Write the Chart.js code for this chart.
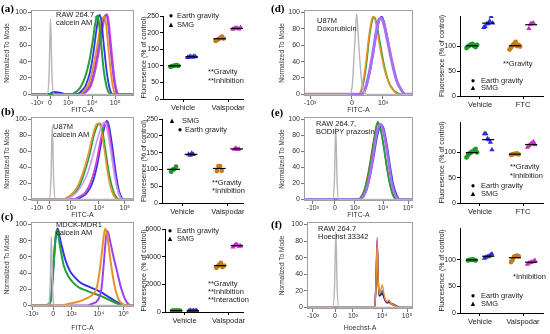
<!DOCTYPE html>
<html>
<head>
<meta charset="utf-8">
<script src="https://cdn.jsdelivr.net/npm/chart.js@4.4.1/dist/chart.umd.min.js"></script>
<style>
  body { margin: 0; background: #fff; }
  #fig { position: relative; width: 550px; height: 334px; overflow: hidden; font-family: "Liberation Sans", Arial, sans-serif; }
  canvas { position: absolute; }
  .t { position: absolute; white-space: nowrap; transform: translateY(-50%); font-size: 7.5px; color: #222; line-height: 1; }
  .m { transform: translate(-50%, -50%); color: #000; }
  .lab { font-family: "Liberation Serif", serif; font-weight: bold; font-size: 11px; color: #000; }
</style>
</head>
<body>
<div id="fig"></div>
<script>
// ---- scatter data (percent of control), one inner array per treatment group ----
const groupsVal = ['Vehicle', 'Valspodar'];
const groupsFtc = ['Vehicle', 'FTC'];

const aEarth = [[97, 99, 100, 101, 102, 100], [175, 178, 181, 184, 188, 182]];
const aSmg = [[125, 127, 128, 126, 129, 127], [210, 212, 214, 213, 211, 215]];
const bEarth = [[93, 99, 101, 108], [95, 110, 110, 96]];
const bSmg = [[145, 142, 148, 144], [160, 164, 159, 161]];
const cEarth = [[100, 95, 105, 98, 102, 100], [3200, 3300, 3450, 3550, 3250, 3350]];
const cSmg = [[110, 100, 95, 105, 98, 102], [4700, 4800, 4900, 4850, 4750, 4780]];
const dEarth = [[96, 99, 101, 103, 104, 100, 98, 102], [93, 97, 101, 104, 108, 100, 102, 99]];
const dSmg = [[137, 139, 144, 145, 150, 159, 146], [135, 144, 145, 146]];
const eEarth = [[90, 95, 98, 100, 102, 104, 107, 100], [95, 96, 97, 97, 98, 96]];
const eSmg = [[137, 137, 127, 125, 120, 105], [110, 113, 116, 118, 121, 115]];
const fEarth = [[99, 100, 100, 101, 100, 99], [96, 100, 106, 107, 108, 107]];
const fSmg = [[103, 105, 106, 107, 109, 111], [92, 94, 95, 96, 97, 99]];

// ---- histogram data: [display position, % of mode] ----
const tickLabels = ['-10³', '0', '10³', '10⁴', '10⁵'];
const aTicks = [-0.55, 0, 0.77, 1.79, 2.77];
const bTicks = [-0.44, 0, 0.81, 1.85, 2.81];
const cTicks = [-0.8, 0, 0.7, 1.75, 2.7];
const dTicks = [-1.35, 0, 1];
const eTicks = [-0.85, 0, 0.77, 1.85, 2.81];
const fTicks = [-0.85, 0, 0.69, 1.81, 2.77];

const aGray = [[-0.8,0],[-0.12,0],[-0.04,25],[0.02,92],[0.08,25],[0.16,0],[3.5,0]];
const aGreen = [[-0.8,0],[0.9,0],[1.1,3],[1.3,9],[1.5,22],[1.65,38],[1.8,62],[1.92,86],[2.0,96],[2.07,90],[2.17,62],[2.28,30],[2.4,10],[2.5,2],[2.6,0],[3.5,0]];
const aBlue = [[-0.8,0],[-0.05,0],[0.15,3],[0.4,2],[0.7,0],[1.1,0],[1.3,3],[1.5,10],[1.68,25],[1.83,48],[1.96,76],[2.05,93],[2.11,97],[2.18,90],[2.28,62],[2.4,30],[2.52,9],[2.62,1],[2.72,0],[3.5,0]];
const aOrange = [[-0.8,0],[1.2,0],[1.4,3],[1.6,10],[1.78,26],[1.95,50],[2.1,76],[2.22,92],[2.3,95],[2.37,88],[2.47,60],[2.58,28],[2.68,8],[2.77,1],[2.85,0],[3.5,0]];
const aPurple = [[-0.8,0],[-0.05,0],[0.15,3],[0.4,2],[0.7,0],[1.3,0],[1.5,3],[1.7,11],[1.87,28],[2.03,52],[2.17,78],[2.3,94],[2.38,97],[2.45,90],[2.55,62],[2.66,30],[2.76,9],[2.85,1],[2.93,0],[3.5,0]];
const aMagenta = [[-0.8,0],[1.35,0],[1.55,3],[1.75,11],[1.92,28],[2.08,52],[2.22,78],[2.34,94],[2.42,98],[2.49,91],[2.59,63],[2.7,31],[2.8,10],[2.89,1],[2.97,0],[3.5,0]];

const bGray = [[-0.67,0],[0.0,0],[0.07,25],[0.12,92],[0.17,25],[0.24,0],[3.15,0]];
const bGreen = [[-0.67,0],[0.5,0],[0.7,2],[0.9,6],[1.1,15],[1.3,32],[1.5,55],[1.65,78],[1.8,93],[1.88,95],[1.97,88],[2.1,60],[2.25,28],[2.4,9],[2.52,2],[2.62,0],[3.15,0]];
const bOrange = [[-0.67,0],[0.45,0],[0.65,2],[0.85,7],[1.05,16],[1.25,33],[1.45,56],[1.62,80],[1.76,94],[1.84,95],[1.93,88],[2.06,60],[2.2,28],[2.35,8],[2.48,1],[2.58,0],[3.15,0]];
const bPurple = [[-0.67,0],[0.6,0],[0.85,4],[1.05,10],[1.25,20],[1.45,35],[1.65,58],[1.85,82],[2.0,95],[2.07,96],[2.15,88],[2.3,58],[2.45,25],[2.6,6],[2.72,0],[3.15,0]];
const bBlue = [[-0.67,0],[1.0,0],[1.2,3],[1.4,8],[1.6,20],[1.78,42],[1.93,70],[2.05,90],[2.14,98],[2.22,92],[2.35,65],[2.48,32],[2.6,10],[2.72,1],[2.8,0],[3.15,0]];
const bMagenta = [[-0.67,0],[0.9,0],[1.1,3],[1.35,9],[1.55,22],[1.75,46],[1.9,72],[2.02,91],[2.1,97],[2.18,92],[2.3,66],[2.43,34],[2.56,10],[2.68,1],[2.76,0],[3.15,0]];

const cGray = [[-0.85,0],[-0.2,0],[-0.12,20],[-0.07,85],[-0.02,20],[0.05,0],[3.1,0]];
const cGreen = [[-0.85,0],[-0.3,0],[-0.1,5],[0.0,40],[0.08,80],[0.15,93],[0.25,75],[0.4,50],[0.6,35],[0.8,27],[1.0,22],[1.3,18],[1.6,14],[1.8,12],[2.0,9],[2.2,6],[2.4,3],[2.6,1],[2.8,0],[3.1,0]];
const cBlue = [[-0.85,0],[-0.3,0],[-0.1,5],[0.0,45],[0.1,85],[0.17,95],[0.28,80],[0.45,58],[0.65,42],[0.85,34],[1.05,28],[1.3,24],[1.6,20],[1.85,16],[2.05,12],[2.25,8],[2.45,4],[2.65,1],[2.85,0],[3.1,0]];
const cOrange = [[-0.85,0],[0.3,0],[0.6,2],[1.0,5],[1.3,9],[1.5,13],[1.65,20],[1.75,35],[1.85,60],[1.95,88],[2.0,95],[2.08,85],[2.2,55],[2.35,25],[2.5,8],[2.65,2],[2.8,0],[3.1,0]];
const cPurple = [[-0.85,0],[1.3,0],[1.5,2],[1.7,6],[1.85,20],[1.95,55],[2.03,85],[2.08,92],[2.18,80],[2.3,62],[2.45,42],[2.6,22],[2.75,8],[2.9,1],[3.0,0],[3.1,0]];

const dGray = [[-1.55,0],[-0.1,0],[0.0,8],[0.08,55],[0.15,98],[0.22,60],[0.3,20],[0.4,2],[0.5,0],[1.97,0]];
const dOrange = [[-1.55,0],[0.2,0],[0.3,6],[0.42,30],[0.55,72],[0.65,93],[0.7,95],[0.78,85],[0.9,58],[1.05,30],[1.2,13],[1.35,4],[1.5,0],[1.97,0]];
const dGreen = [[-1.55,0],[0.22,0],[0.32,6],[0.45,32],[0.57,72],[0.67,92],[0.73,94],[0.8,86],[0.92,60],[1.06,32],[1.2,14],[1.35,5],[1.5,1],[1.6,0],[1.97,0]];
const dBlue = [[-1.55,0],[0.3,0],[0.42,5],[0.55,22],[0.68,48],[0.8,76],[0.9,92],[0.96,95],[1.04,88],[1.17,64],[1.3,38],[1.45,16],[1.6,5],[1.72,0],[1.97,0]];
const dPurple = [[-1.55,0],[0.3,0],[0.42,6],[0.55,25],[0.68,52],[0.8,80],[0.88,92],[0.93,93],[1.02,87],[1.15,65],[1.3,38],[1.45,16],[1.6,5],[1.72,0],[1.97,0]];

const eGray = [[-1.19,0],[-0.08,0],[-0.02,25],[0.03,90],[0.08,25],[0.14,0],[3.0,0]];
const eGreen = [[-1.19,0],[0.9,0],[1.02,3],[1.15,12],[1.28,30],[1.4,52],[1.52,76],[1.6,93],[1.65,97],[1.72,92],[1.85,70],[1.98,42],[2.1,20],[2.22,6],[2.35,0],[3.0,0]];
const eBrown = [[-1.19,0],[0.88,0],[1.0,3],[1.13,12],[1.26,30],[1.38,52],[1.5,76],[1.6,92],[1.66,95],[1.74,90],[1.87,68],[2.0,40],[2.12,18],[2.24,5],[2.36,0],[3.0,0]];
const eBlue = [[-1.19,0],[0.95,0],[1.08,3],[1.22,12],[1.36,30],[1.5,55],[1.62,78],[1.72,90],[1.8,93],[1.88,88],[2.0,68],[2.12,42],[2.25,18],[2.38,5],[2.5,0],[3.0,0]];
const ePurple = [[-1.19,0],[0.95,0],[1.08,3],[1.22,13],[1.35,32],[1.48,58],[1.6,82],[1.7,92],[1.76,94],[1.84,88],[1.96,68],[2.08,42],[2.2,18],[2.33,5],[2.45,0],[3.0,0]];

const fGray = [[-1.08,0],[-0.08,0],[-0.02,25],[0.03,91],[0.08,25],[0.14,0],[3.0,0]];
const fGreen = [[-1.08,0],[1.45,0],[1.53,2],[1.58,35],[1.62,80],[1.66,35],[1.7,14],[1.76,17],[1.82,20],[1.87,14],[1.94,8],[2.02,6],[2.07,7],[2.15,4],[2.3,2],[2.45,0],[3.0,0]];
const fMagenta = [[-1.08,0],[1.45,0],[1.53,2],[1.58,37],[1.62,84],[1.66,36],[1.7,14],[1.76,15],[1.82,18],[1.87,13],[1.94,7],[2.02,5],[2.07,6],[2.15,4],[2.3,2],[2.45,0],[3.0,0]];
const fOrange = [[-1.08,0],[1.45,0],[1.53,2],[1.58,33],[1.62,78],[1.66,34],[1.7,16],[1.76,21],[1.82,27],[1.87,18],[1.94,9],[2.02,7],[2.07,9],[2.15,5],[2.3,2],[2.45,0],[3.0,0]];
const fBlue = [[-1.08,0],[1.45,0],[1.53,2],[1.58,32],[1.62,76],[1.66,33],[1.7,14],[1.76,15],[1.82,17],[1.87,13],[1.94,8],[2.02,6],[2.07,7],[2.15,5],[2.3,3],[2.48,0],[3.0,0]];

// ---- colours ----
const histCol = { gray: '#b5b5b5', green: '#22a03c', blue: '#3434e6', orange: '#e8902a', purple: '#9d40f2', magenta: '#d043d0', brown: '#8a5a1a' };
const dotCol = ['#1f9a2a', '#2b2be0', '#c27c1c', '#c82bc8'];

Chart.defaults.font.family = '"Liberation Sans", Arial, sans-serif';
Chart.defaults.color = '#222';

const fig = document.getElementById('fig');

function note(text, x, y, cls) {
  const d = document.createElement('div');
  d.className = 't' + (cls ? ' ' + cls : '');
  d.style.left = x + 'px';
  d.style.top = y + 'px';
  d.textContent = text;
  fig.appendChild(d);
}

function addCanvas(box) {
  const c = document.createElement('canvas');
  c.width = box[2];
  c.height = box[3];
  c.style.left = box[0] + 'px';
  c.style.top = box[1] + 'px';
  c.style.width = box[2] + 'px';
  c.style.height = box[3] + 'px';
  fig.appendChild(c);
  return c;
}

const framePlugin = {
  id: 'frame',
  afterDraw(chart) {
    const a = chart.chartArea, ctx = chart.ctx;
    ctx.save();
    ctx.strokeStyle = '#a0a0a0';
    ctx.lineWidth = 1;
    ctx.strokeRect(a.left + 0.5, a.top + 0.5, a.right - a.left - 1, a.bottom - a.top - 1);
    ctx.restore();
  }
};

// box = [left, top, width, height] of canvas, area = [left, right, top, bottom] of plot
function histPanel(box, area, xMin, xMax, ticks, xTitle, curves) {
  const canvas = addCanvas(box);
  const datasets = curves.map(c => ({
    data: c[0].map(p => ({ x: p[0], y: p[1] })),
    borderColor: c[1],
    borderWidth: c[2] || 1.4,
    pointRadius: 0,
    cubicInterpolationMode: 'monotone',
    fill: false
  }));
  new Chart(canvas, {
    type: 'line',
    data: { datasets },
    options: {
      responsive: false, animation: false, devicePixelRatio: 1,
      layout: { padding: { left: 0, top: area[2] - box[1], right: box[0] + box[2] - area[1], bottom: 0 } },
      plugins: { legend: { display: false }, tooltip: { enabled: false } },
      scales: {
        x: {
          type: 'linear', min: xMin, max: xMax,
          afterFit: s => { s.height = box[1] + box[3] - area[3]; },
          afterBuildTicks: s => { s.ticks = ticks.map(v => ({ value: v })); },
          ticks: { callback: (v, i) => tickLabels[i], font: { size: 7 }, color: '#333', padding: 0, maxRotation: 0, autoSkip: false },
          grid: { drawOnChartArea: false, tickLength: 3, color: '#777' },
          border: { display: false },
          title: { display: true, text: xTitle, font: { size: 7 }, color: '#333', padding: { top: 0, bottom: 2 } }
        },
        y: {
          min: -2, max: 103,
          afterFit: s => { s.width = area[0] - box[0]; },
          afterBuildTicks: s => { s.ticks = [0, 20, 40, 60, 80, 100].map(v => ({ value: v })); },
          ticks: { font: { size: 7 }, color: '#333', padding: 1 },
          grid: { drawOnChartArea: false, tickLength: 3, color: '#777' },
          border: { display: false },
          title: { display: true, text: 'Normalized To Mode', font: { size: 6.5 }, color: '#333', padding: { top: 3, bottom: 0 } }
        }
      }
    },
    plugins: [framePlugin]
  });
}

function mean(v) { return v.reduce((s, x) => s + x, 0) / v.length; }

function scatterPanel(box, area, xMin, xMax, groups, earth, smg, yMax, yStep) {
  const canvas = addCanvas(box);
  const datasets = [];
  groups.forEach((g, gi) => {
    const sets = [[earth[gi], 'circle', -0.19, dotCol[gi * 2]], [smg[gi], 'triangle', 0.19, dotCol[gi * 2 + 1]]];
    sets.forEach(([vals, style, off, col]) => {
      const cx = gi + 1 + off;
      datasets.push({
        type: 'scatter',
        data: vals.map((v, i) => ({ x: cx + (i - (vals.length - 1) / 2) * 0.035, y: v })),
        pointStyle: style, pointRadius: style === 'circle' ? 2.4 : 3,
        backgroundColor: col, borderColor: col, borderWidth: 0
      });
      const m = mean(vals);
      datasets.push({
        type: 'line', order: -1,
        data: [{ x: cx - 0.14, y: m }, { x: cx + 0.14, y: m }],
        borderColor: '#000', borderWidth: 1.2, pointRadius: 0
      });
    });
  });
  new Chart(canvas, {
    type: 'scatter',
    data: { datasets },
    options: {
      responsive: false, animation: false, devicePixelRatio: 1,
      layout: { padding: { left: 0, top: area[2] - box[1], right: box[0] + box[2] - area[1], bottom: 0 } },
      plugins: { legend: { display: false }, tooltip: { enabled: false } },
      scales: {
        x: {
          type: 'linear', min: xMin, max: xMax,
          afterFit: s => { s.height = box[1] + box[3] - area[3]; },
          afterBuildTicks: s => { s.ticks = groups.map((g, i) => ({ value: i + 1 })); },
          ticks: { callback: (v, i) => groups[i], font: { size: 7.5 }, color: '#222', padding: 1, maxRotation: 0, autoSkip: false },
          grid: { drawOnChartArea: false, tickLength: 3, color: '#000' },
          border: { display: true, color: '#000', width: 1 }
        },
        y: {
          min: 0, max: yMax,
          afterFit: s => { s.width = area[0] - box[0]; },
          afterBuildTicks: s => { s.ticks = s.ticks.filter(t => t.value % yStep === 0); },
          ticks: { stepSize: yStep, callback: v => String(v), font: { size: 7 }, color: '#222', padding: 1 },
          grid: { drawOnChartArea: false, tickLength: 3, color: '#000' },
          border: { display: true, color: '#000', width: 1 },
          title: { display: true, text: 'Fluoresence (% of control)', font: { size: 7 }, color: '#222', padding: { top: 0, bottom: 0 } }
        }
      }
    }
  });
}

// ---- histograms ----
const H = histCol;
histPanel([0, 0, 140, 116], [31, 134, 10, 96], -0.81, 3.57, aTicks, 'FITC-A',
  [[aGray, H.gray], [aGreen, H.green, 2], [aBlue, H.blue, 1.8], [aOrange, H.orange, 1.8], [aPurple, H.purple, 1.8], [aMagenta, H.magenta, 1.6]]);
histPanel([0, 105, 140, 116], [31, 134, 117, 201], -0.67, 3.15, bTicks, 'FITC-A',
  [[bGray, H.gray], [bPurple, '#c89af5', 1.6], [bOrange, H.orange, 1.6], [bGreen, H.green, 1.6], [bMagenta, H.magenta, 1.8], [bBlue, H.blue, 1.8]]);
histPanel([0, 215, 140, 119], [31, 134, 222, 307], -0.85, 3.1, cTicks, 'FITC-A',
  [[cGray, H.gray], [cOrange, H.orange, 2], [cPurple, H.purple, 2], [cGreen, H.green, 2], [cBlue, H.blue, 2]]);
histPanel([275, 0, 140, 116], [304, 413, 10, 96], -1.55, 1.97, dTicks, 'FITC-A',
  [[dGray, H.gray], [dPurple, '#a870f0', 3], [dBlue, H.blue, 1.6], [dOrange, H.orange, 1.6], [dGreen, H.green, 1.6]]);
histPanel([275, 105, 140, 116], [304, 413, 117, 201], -1.19, 3.0, eTicks, 'FITC-A',
  [[eGray, H.gray], [ePurple, '#a870f0', 2.5], [eBlue, H.blue, 1.6], [eGreen, H.green, 1.6], [eBrown, H.brown, 1.6]]);
histPanel([275, 215, 140, 119], [307, 413, 222, 309], -1.08, 3.0, fTicks, 'Hoechst-A',
  [[fGray, H.gray], [fOrange, H.orange, 1.4], [fBlue, '#1c2a8a', 1.4], [fMagenta, H.magenta, 1.4], [fGreen, '#1f8a5a', 1.4]]);

// ---- dot plots ----
scatterPanel([140, 0, 135, 116], [163, 243, 16, 99], 0.556, 2.33, groupsVal, aEarth, aSmg, 250, 50);
scatterPanel([140, 105, 135, 116], [162, 243, 119, 203], 0.556, 2.33, groupsVal, bEarth, bSmg, 250, 50);
scatterPanel([140, 215, 135, 119], [165, 243, 229, 312], 0.556, 2.33, groupsVal, cEarth, cSmg, 6000, 2000);
scatterPanel([438, 0, 112, 116], [460, 543, 16, 96], 0.535, 2.465, groupsFtc, dEarth, dSmg, 160, 50);
scatterPanel([438, 105, 112, 116], [460, 543, 122, 203], 0.535, 2.465, groupsFtc, eEarth, eSmg, 160, 50);
scatterPanel([438, 215, 112, 119], [460, 543, 228, 313], 0.535, 2.465, groupsVal, fEarth, fSmg, 160, 50);

// ---- panel letters ----
note('(a)', 1, 8, 'lab'); note('(b)', 1, 111, 'lab'); note('(c)', 1, 216, 'lab');
note('(d)', 271, 8, 'lab'); note('(e)', 271, 112, 'lab'); note('(f)', 271, 224, 'lab');

// ---- histogram captions ----
note('RAW 264.7,', 56, 15); note('calcein AM', 56, 23);
note('U87M', 53, 127); note('calcein AM', 53, 135);
note('MDCK-MDR1', 56, 225); note('calcein AM', 56, 233);
note('U87M', 317, 21); note('Doxorubicin', 317, 29);
note('RAW 264.7,', 316, 124); note('BODIPY prazosin', 316, 132);
note('RAW 264.7', 318, 229); note('Hoechst 33342', 318, 237);

// ---- dot plot legends ----
function legendRow(marker, mx, text, tx, y) {
  note(marker, mx, y, 'm');
  note(text, tx, y);
}
legendRow('●', 171, 'Earth gravity', 177, 16); legendRow('▲', 171, 'SMG', 177, 25);
legendRow('▲', 172, 'SMG', 182, 121); legendRow('●', 180, 'Earth gravity', 185, 130);
legendRow('●', 170, 'Earth gravity', 177, 231); legendRow('▲', 170, 'SMG', 177, 239);
legendRow('●', 473, 'Earth gravity', 481, 81); legendRow('▲', 473, 'SMG', 481, 88);
legendRow('●', 473, 'Earth gravity', 481, 186); legendRow('▲', 473, 'SMG', 481, 194);
legendRow('●', 473, 'Earth gravity', 481, 296); legendRow('▲', 473, 'SMG', 481, 304);

// ---- statistics notes ----
note('**Gravity', 208, 72); note('**Inhibition', 208, 81);
note('**Gravity', 212, 183); note('*Inhibition', 212, 191);
note('**Gravity', 208, 284); note('**Inhibition', 208, 292); note('**Interaction', 208, 300);
note('**Gravity', 503, 64);
note('**Gravity', 510, 167); note('*Inhibition', 510, 176);
note('*Inhibition', 513, 277);
</script>
</body>
</html>
